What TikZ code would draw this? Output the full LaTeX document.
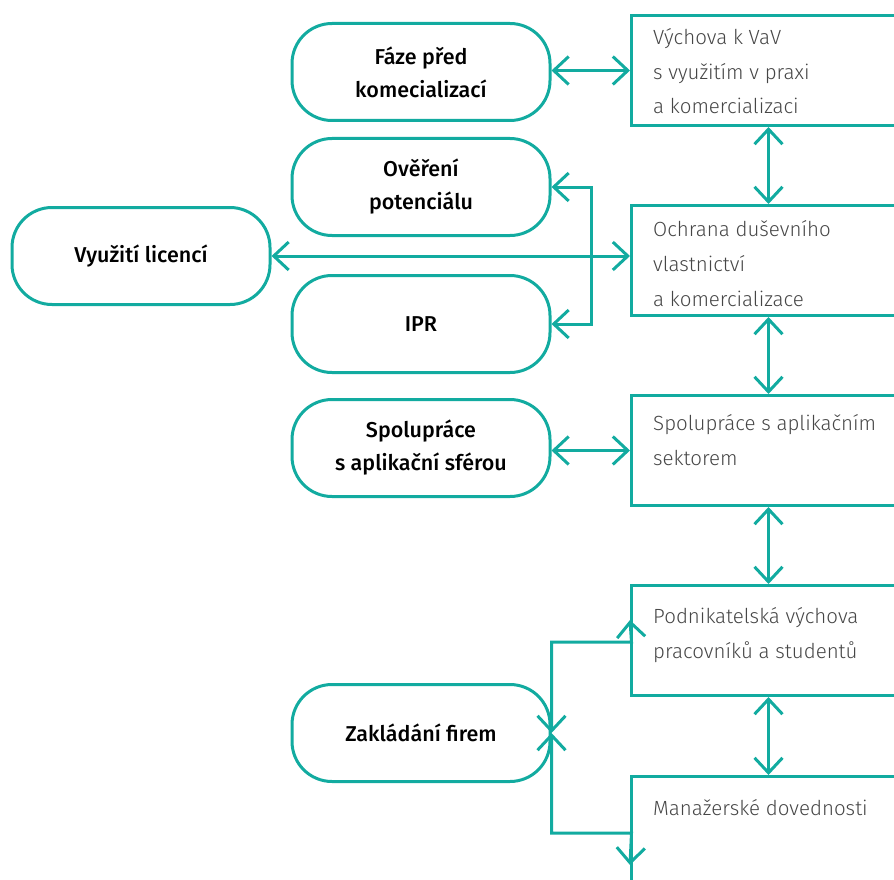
\documentclass[tikz,border=0pt]{standalone}
\usepackage{fontspec}
\setmainfont{Fira Sans}
\newfontfamily\lightfont{Fira Sans Light}
\newfontfamily\medfont{Fira Sans Medium}
\usetikzlibrary{arrows.meta}
\definecolor{tyrkys}{RGB}{18,171,160}
\definecolor{seda}{RGB}{70,70,70}

\tikzset{
	stage/.style={draw=tyrkys, line width=3pt, rounded corners=40pt, minimum width=258pt, minimum height=97pt, align=center, text=black, font=\medfont\fontsize{21.5}{33}\selectfont},
	area/.style={draw=tyrkys, line width=3pt, minimum width=274pt, minimum height=110pt, anchor=north west},
	areatext/.style={anchor=base west, align=left, inner sep=0pt, text=seda, font=\lightfont\fontsize{20.5}{35}\selectfont},
	link/.style={draw=tyrkys, line width=3pt, {Straight Barb[length=15pt,width=28pt]}-{Straight Barb[length=15pt,width=28pt]}},
}

\begin{document}
\begin{tikzpicture}[x=1pt, y=-1pt]
	\clip (0,0) rectangle (894,880);
	\def\gap{23}

	% faze (vlevo)
	\node[stage] (faze) at (421,72) {Fáze před\\komecializací};
	\node[stage] (overeni) at (421,187) {Ověření\\potenciálu};
	\node[stage] (licence) at (141,256) {Využití licencí};
	\node[stage] (ipr) at (421,324) {IPR};
	\node[stage] (spoluprace) at (421,448) {Spolupráce\\s aplikační sférou};
	\node[stage] (firmy) at (421,733) {Zakládání firem};

	% oblasti (vpravo), \off = odstup posledniho radku od horni hrany
	\foreach \name/\y/\off/\txt in {vychova/14/100/{Výchova k VaV\\s využitím v praxi\\a komercializaci},
		ochrana/204/102/{Ochrana duševního\\vlastnictví\\a komercializace},
		sektor/394/71/{Spolupráce s aplikačním\\sektorem},
		podnik/584/74/{Podnikatelská výchova\\pracovníků a studentů},
		manazer/775/40/{Manažerské dovednosti}}{
		\node[area] (\name) at (630,\y) {};
		\node[areatext] (\name-text) at ([xshift=\gap, yshift=-\off] \name.north west) {\txt};
	}

	\foreach \a/\b in {vychova/ochrana, ochrana/sektor, sektor/podnik, podnik/manazer}{
		\draw[link] (\a.south) -- (\b.north);
	}

	\draw[link] (faze.east |- vychova.west) -- (vychova.west);
	\draw[link] (licence.east) -- (licence.east -| ochrana.west);
	\draw[link] (overeni.east) -- ++(40,0) |- (ipr.east);
	\draw[link] (spoluprace.east |- sektor.west) -- (sektor.west);

	\coordinate (horni) at (630,620);
	\coordinate (dolni) at (630,865);
	\draw[link] (firmy.east) -- ++(0,-91) -- ++(80,0) -- (horni);
	\draw[link] (firmy.east) -- ++(0,100) -- ++(80,0) -- (dolni);
\end{tikzpicture}
\end{document}
